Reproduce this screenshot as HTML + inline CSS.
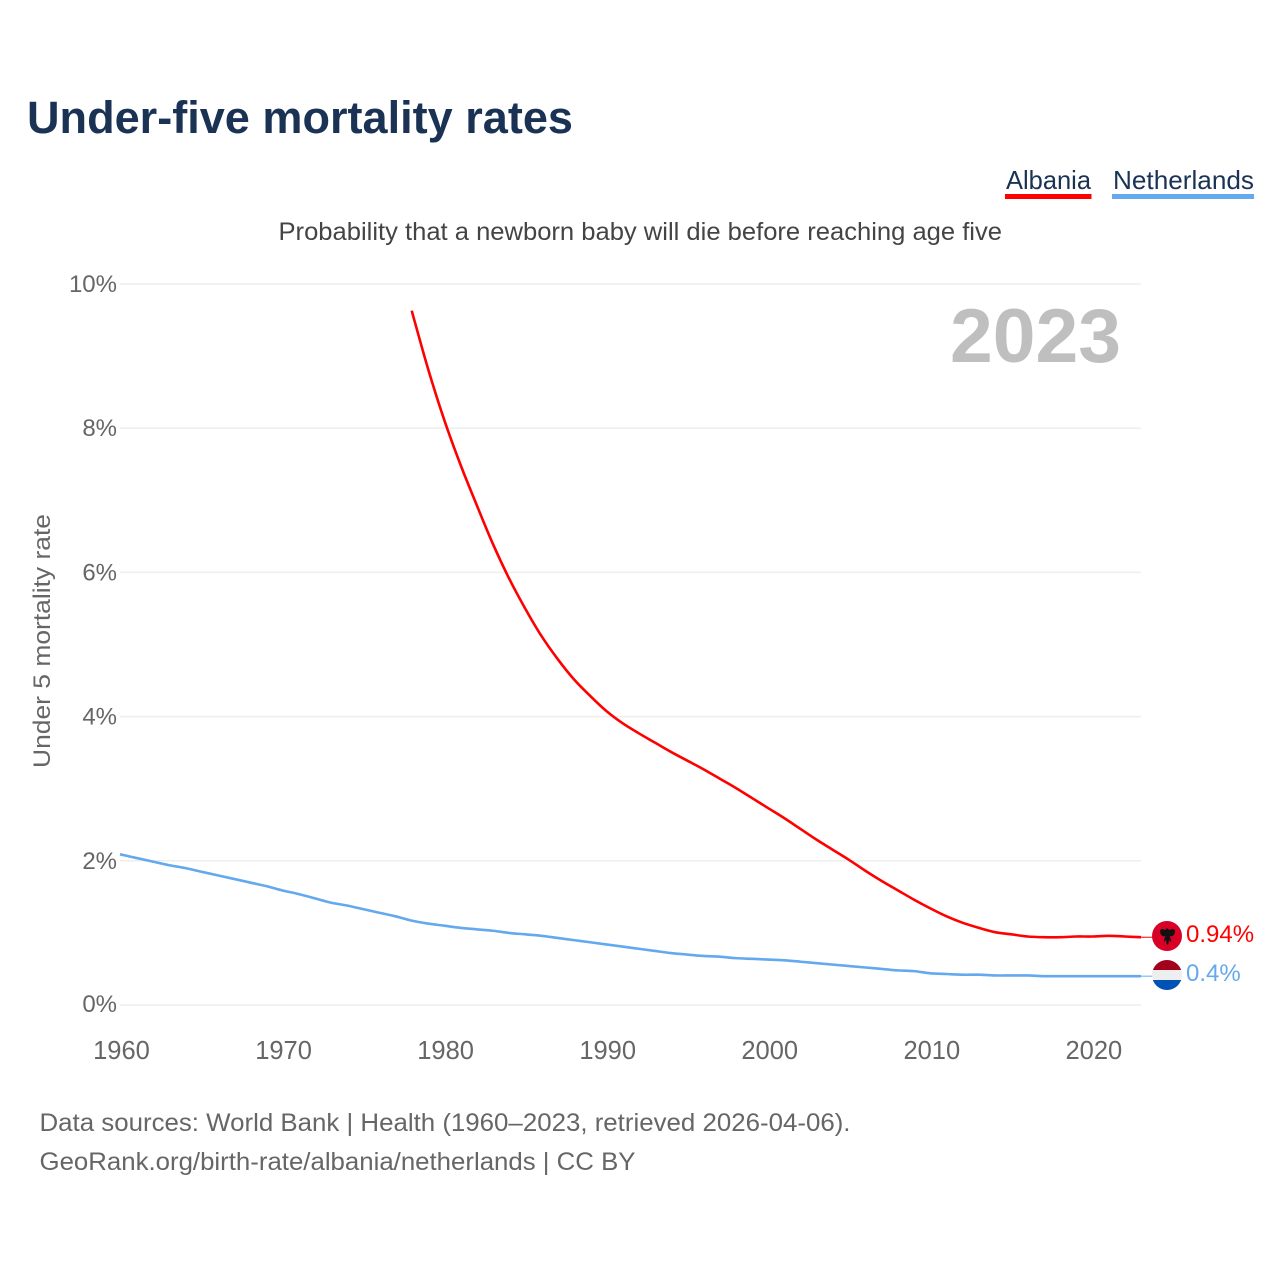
<!DOCTYPE html>
<html lang="en">
<head>
<meta charset="utf-8">
<title>Under-five mortality rates</title>
<style>
html,body{margin:0;padding:0;background:#fff;}
svg{display:block;font-family:"Liberation Sans",sans-serif;}
</style>
</head>
<body>
<svg id="chart" xmlns="http://www.w3.org/2000/svg" width="1280" height="1280" viewBox="0 0 1280 1280">
  <rect width="1280" height="1280" fill="#fff"/>
  <text x="27" y="133" font-size="45" font-weight="700" fill="#1a3355" textLength="546" lengthAdjust="spacingAndGlyphs">Under-five mortality rates</text>
  <g>
    <g>
      <text x="1006" y="189" font-size="26" fill="#1a3355" textLength="85" lengthAdjust="spacingAndGlyphs">Albania</text>
      <rect x="1005" y="194" width="86.500" height="5" fill="#ff0000"/>
    </g>
    <g>
      <text x="1113" y="189" font-size="26" fill="#1a3355" textLength="141" lengthAdjust="spacingAndGlyphs">Netherlands</text>
      <rect x="1112" y="194" width="142" height="5" fill="#64a8ee"/>
    </g>
  </g>
  <text x="278.500" y="240" font-size="25" fill="#444" textLength="723.500" lengthAdjust="spacingAndGlyphs">Probability that a newborn baby will die before reaching age five</text>
  <g id="grid"></g>
  <g id="yticks"></g>
  <g id="xticks"></g>
  <text transform="translate(50,768) rotate(-90)" font-size="24.500" fill="#666" textLength="254" lengthAdjust="spacingAndGlyphs">Under 5 mortality rate</text>
  <text x="950" y="362" font-size="76" font-weight="700" fill="#bfbfbf" textLength="171" lengthAdjust="spacingAndGlyphs">2023</text>
  <g id="series"></g>
  <defs>
    <clipPath id="clip-nl"><circle cx="1167" cy="975" r="15"/></clipPath>
  </defs>
  <g>
    <circle cx="1167" cy="936" r="15" fill="#d80027"/>
    <path d="M1166 929l1-1 1 1 1.500 1 3-1 2.500 1-.5 4-2 2-3 .5 1 2 1 3-1.500 0-1-2-.5 4-1 1.500-1-1.500-.5-4-1 2-1.500 0 1-3 1-2-3-.5-2-2-.5-4 2.500-1 3 1z" fill="#111"/>
  </g>
  <g clip-path="url(#clip-nl)">
    <rect x="1152" y="960" width="30" height="10" fill="#a2001d"/>
    <rect x="1152" y="970" width="30" height="10" fill="#eeeeee"/>
    <rect x="1152" y="980" width="30" height="10" fill="#0052b4"/>
  </g>
  <text x="1186" y="942" font-size="24" fill="#ff0000">0.94%</text>
  <text x="1186" y="981" font-size="24" fill="#64a8ee">0.4%</text>
  <text x="39.500" y="1131" font-size="25" fill="#666" textLength="811" lengthAdjust="spacingAndGlyphs">Data sources: World Bank | Health (1960–2023, retrieved 2026-04-06).</text>
  <text x="39.500" y="1170" font-size="25" fill="#666" textLength="596" lengthAdjust="spacingAndGlyphs">GeoRank.org/birth-rate/albania/netherlands | CC BY</text>
</svg>
<script>
var firstYear = 1960;
var lastYear = 2023;
var yTickValues = [0, 2, 4, 6, 8, 10];
var yTickLabels = ["0%", "2%", "4%", "6%", "8%", "10%"];
var xTickYears = [1960, 1970, 1980, 1990, 2000, 2010, 2020];
var xTickLabels = ["1960", "1970", "1980", "1990", "2000", "2010", "2020"];
var albaniaStartYear = 1978;
var albaniaValues = [9.63, 8.83, 8.12, 7.50, 6.94, 6.40, 5.92, 5.50, 5.12, 4.80, 4.52, 4.29, 4.08, 3.91, 3.77, 3.64, 3.51, 3.39, 3.27, 3.14, 3.01, 2.87, 2.73, 2.59, 2.44, 2.29, 2.15, 2.01, 1.86, 1.72, 1.59, 1.46, 1.34, 1.23, 1.14, 1.07, 1.01, 0.98, 0.95, 0.94, 0.94, 0.95, 0.95, 0.96, 0.95, 0.94];
var netherlandsStartYear = 1960;
var netherlandsValues = [2.09, 2.04, 1.99, 1.94, 1.90, 1.85, 1.80, 1.75, 1.70, 1.65, 1.59, 1.54, 1.48, 1.42, 1.38, 1.33, 1.28, 1.23, 1.17, 1.13, 1.10, 1.07, 1.05, 1.03, 1.00, 0.98, 0.96, 0.93, 0.90, 0.87, 0.84, 0.81, 0.78, 0.75, 0.72, 0.70, 0.68, 0.67, 0.65, 0.64, 0.63, 0.62, 0.60, 0.58, 0.56, 0.54, 0.52, 0.50, 0.48, 0.47, 0.44, 0.43, 0.42, 0.42, 0.41, 0.41, 0.41, 0.40, 0.40, 0.40, 0.40, 0.40, 0.40, 0.40];

var NS = "http://www.w3.org/2000/svg";
var plotLeft = 120, plotRight = 1141, plotTop = 284, plotBottom = 1005, yMax = 10;

function xScale(year) {
  return plotLeft + (year - firstYear) / (lastYear - firstYear) * (plotRight - plotLeft);
}
function yScale(value) {
  return plotBottom - value / yMax * (plotBottom - plotTop);
}
function make(tag, parentId) {
  var el = document.createElementNS(NS, tag);
  document.getElementById(parentId).appendChild(el);
  return el;
}

yTickValues.forEach(function (v, i) {
  var line = make("line", "grid");
  
  
  line.setAttribute("x1", plotLeft);
  line.setAttribute("x2", plotRight);
  line.setAttribute("y1", yScale(v));
  line.setAttribute("y2", yScale(v));
  line.setAttribute("stroke", "#eeeeee");
  line.setAttribute("stroke-width", "1.5");

  var t = make("text", "yticks");
  
  
  t.setAttribute("x", 117);
  t.setAttribute("y", yScale(v) + (v === 0 ? 7 : 8));
  t.setAttribute("text-anchor", "end");
  t.setAttribute("font-size", "24");
  t.setAttribute("fill", "#666");
  t.textContent = yTickLabels[i];
});

xTickYears.forEach(function (year, i) {
  var t = make("text", "xticks");
  
  
  t.setAttribute("x", xScale(year) + 1.5);
  t.setAttribute("y", 1059);
  t.setAttribute("text-anchor", "middle");
  t.setAttribute("font-size", "25.5");
  t.setAttribute("fill", "#666");
  t.textContent = xTickLabels[i];
});

// Smooth curve through the yearly values (Catmull-Rom converted to cubic Beziers).
function linePath(values, startYear) {
  var pts = values.map(function (v, i) {
    return [xScale(startYear + i), yScale(v)];
  });
  var d = "M" + pts[0][0].toFixed(2) + " " + pts[0][1].toFixed(2);
  for (var i = 0; i < pts.length - 1; i++) {
    var p0 = pts[Math.max(i - 1, 0)];
    var p1 = pts[i];
    var p2 = pts[i + 1];
    var p3 = pts[Math.min(i + 2, pts.length - 1)];
    var c1x = p1[0] + (p2[0] - p0[0]) / 6;
    var c1y = p1[1] + (p2[1] - p0[1]) / 6;
    var c2x = p2[0] - (p3[0] - p1[0]) / 6;
    var c2y = p2[1] - (p3[1] - p1[1]) / 6;
    d += "C" + c1x.toFixed(2) + " " + c1y.toFixed(2) + " " + c2x.toFixed(2) + " " + c2y.toFixed(2) + " " + p2[0].toFixed(2) + " " + p2[1].toFixed(2);
  }
  return d;
}

function drawSeries(name, values, startYear, color) {
  var path = make("path", "series");
  
  
  path.setAttribute("data-series", name);
  path.setAttribute("d", linePath(values, startYear));
  path.setAttribute("fill", "none");
  path.setAttribute("stroke", color);
  path.setAttribute("stroke-width", "2.6");
  path.setAttribute("stroke-linejoin", "round");

  var last = values[values.length - 1];
  var lead = make("line", "series");
  
  
  lead.setAttribute("x1", plotRight);
  lead.setAttribute("x2", 1153);
  lead.setAttribute("y1", yScale(last));
  lead.setAttribute("y2", yScale(last));
  lead.setAttribute("stroke", color);
  lead.setAttribute("stroke-width", "1");
}

drawSeries("netherlands", netherlandsValues, netherlandsStartYear, "#64a8ee");
drawSeries("albania", albaniaValues, albaniaStartYear, "#ff0000");
</script>
</body>
</html>
